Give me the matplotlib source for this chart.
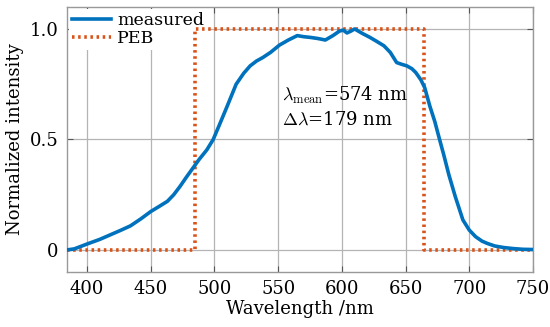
from matplotlib import pyplot as plt

plt.rcParams['font.family'] = ['DejaVu Serif']
plt.rcParams['mathtext.fontset'] = 'cm'

# measured spectrum
wavelength = [384, 390, 400, 410, 418, 426, 434, 442, 450, 456, 463, 468, 473, 478, 483,
              488, 494, 499, 504, 510, 517, 523, 528, 533, 538, 544, 551, 558, 565, 570,
              575, 581, 587, 593, 598, 601, 604, 607, 610, 616, 622, 627, 633, 638, 643,
              647, 651, 655, 658, 662, 665, 669, 673, 676, 680, 684, 689, 695, 700, 705,
              710, 714, 720, 727, 735, 742, 750]
intensity = [0.0, 0.005, 0.027, 0.048, 0.068, 0.088, 0.109, 0.14, 0.174, 0.195, 0.22, 0.25,
             0.288, 0.33, 0.37, 0.41, 0.453, 0.50, 0.568, 0.651, 0.75, 0.80, 0.833, 0.855,
             0.871, 0.894, 0.927, 0.95, 0.97, 0.965, 0.962, 0.957, 0.95, 0.97, 0.99, 0.995,
             0.982, 0.99, 1.0, 0.98, 0.962, 0.945, 0.924, 0.894, 0.848, 0.84, 0.833, 0.82,
             0.803, 0.77, 0.735, 0.652, 0.58, 0.515, 0.43, 0.34, 0.242, 0.136, 0.09, 0.06,
             0.04, 0.03, 0.018, 0.011, 0.006, 0.003, 0.002]

# pass-band equivalent
peb_x = [384, 485, 485, 664.5, 664.5, 750]
peb_y = [0, 0, 1, 1, 0, 0]

xticks = [400, 450, 500, 550, 600, 650, 700, 750]
yticks = [0, 0.5, 1.0]
ytick_labels = ['0', '0.5', '1.0']

fig = plt.figure(figsize=(5.5, 3.27), dpi=100)
ax = fig.add_axes([0.122, 0.168, 0.847, 0.811])

ax.plot(wavelength, intensity, color='#0072BD', lw=2.6, label='measured', zorder=4)
ax.plot(peb_x, peb_y, color='#D95319', lw=2.6, linestyle=(0, (0.7, 1.0)),
        label='PEB', zorder=3)

ax.set_xlim(384.3, 750)
ax.set_ylim(-0.1, 1.1)
ax.set_xticks(xticks)
ax.set_yticks(yticks)
ax.set_yticklabels(ytick_labels)
ax.tick_params(direction='in', top=True, right=True, labelsize=13, length=4,
               color='#555555', pad=6)
ax.grid(True, color='#b4b4b4', lw=0.9)
for s in ax.spines.values():
    s.set_color('#999999')
    s.set_linewidth(1.0)

ax.set_xlabel('Wavelength /nm', fontsize=13, labelpad=1)
ax.set_ylabel('Normalized intensity', fontsize=13, labelpad=4)

ax.text(553, 0.70, r'$\lambda_{\mathrm{mean}}$=574 nm', fontsize=13, va='center')
ax.text(553, 0.59, r'$\Delta\lambda$=179 nm', fontsize=13, va='center')

leg = ax.legend(loc='upper left', fontsize=12.5, frameon=True, fancybox=False,
                framealpha=1, edgecolor='none', handlelength=2.2,
                borderaxespad=0.1, borderpad=0.2, labelspacing=0.05, handletextpad=0.4)
leg.set_zorder(2.5)

plt.savefig('out.png', dpi=100)
